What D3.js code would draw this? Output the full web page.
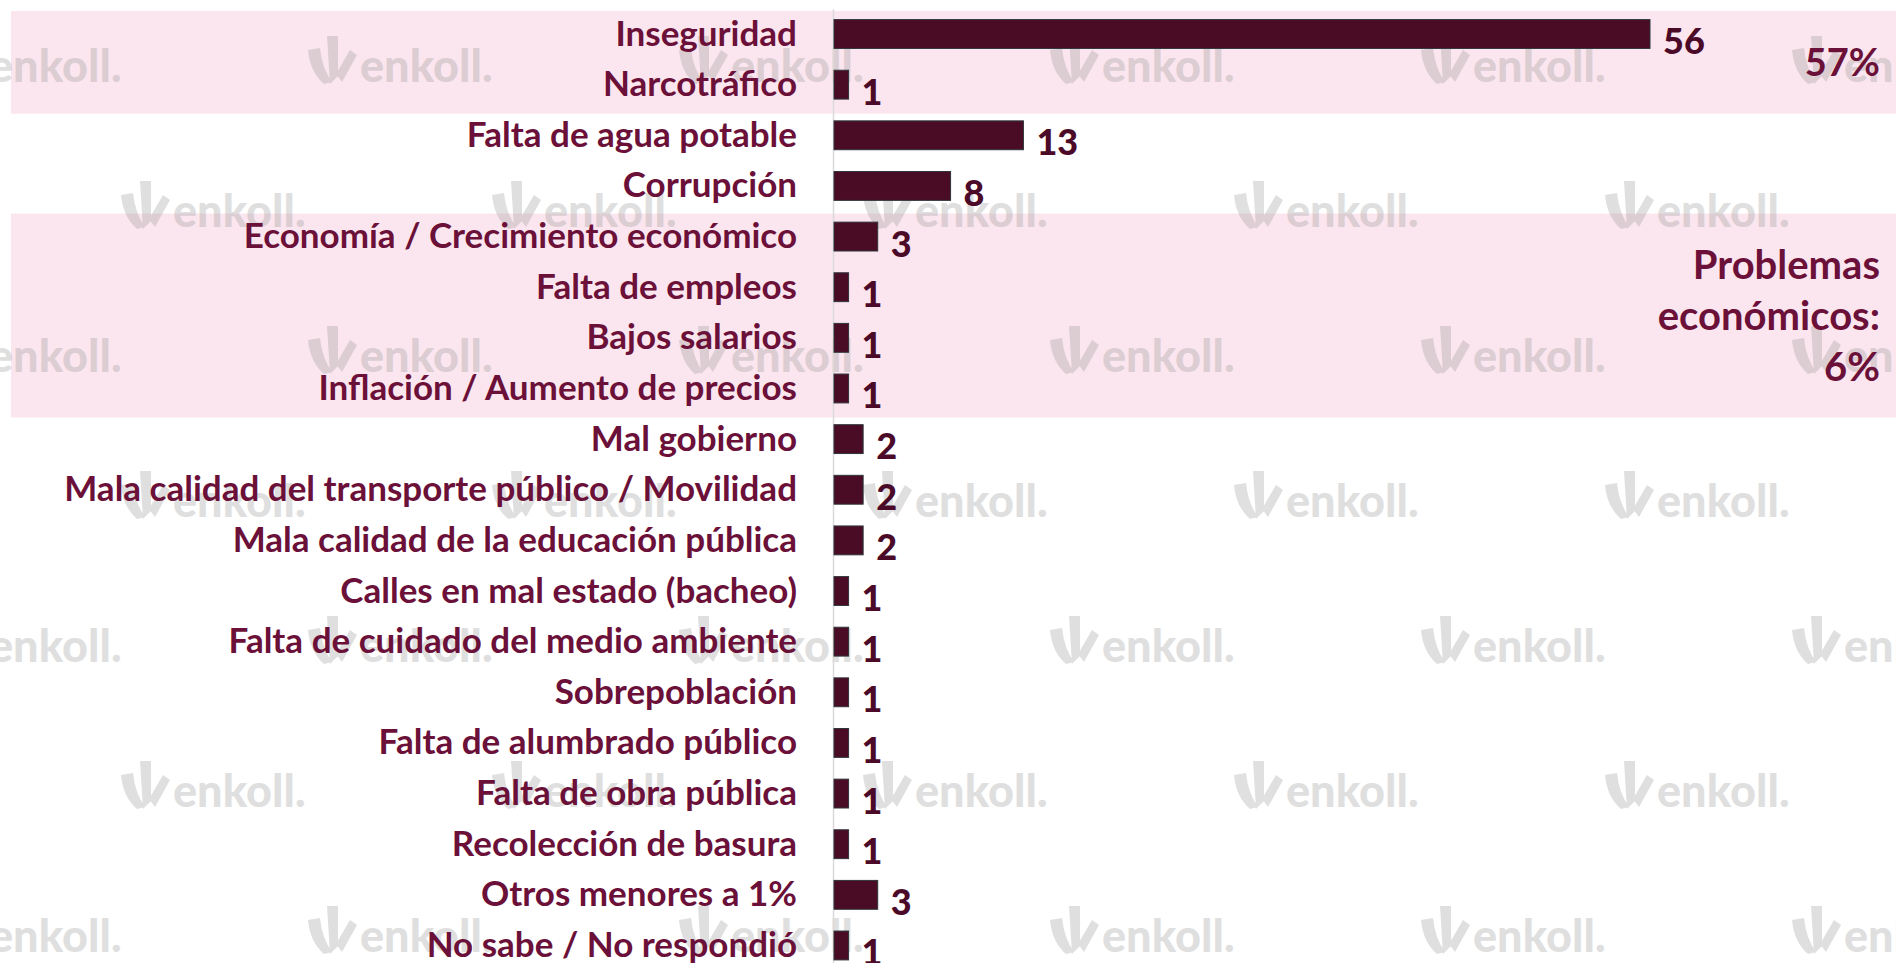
<!DOCTYPE html>
<html>
  <head>
    <meta charset="utf-8">
    <title>Problemas principales</title>
    <script type="text/javascript" src="https://cdn.jsdelivr.net/npm/d3@7"></script>
    <style>
      body { margin: 0; background: #fff; }
      svg { display: block; font-family: Lato, "Open Sans", sans-serif; font-weight: bold; }
    </style>
  </head>
  <body>
<script type="text/javascript">
var categories = [
  "Inseguridad", "Narcotráfico", "Falta de agua potable", "Corrupción",
  "Economía / Crecimiento económico", "Falta de empleos", "Bajos salarios",
  "Inflación / Aumento de precios", "Mal gobierno",
  "Mala calidad del transporte público / Movilidad",
  "Mala calidad de la educación pública", "Calles en mal estado (bacheo)",
  "Falta de cuidado del medio ambiente", "Sobrepoblación",
  "Falta de alumbrado público", "Falta de obra pública",
  "Recolección de basura", "Otros menores a 1%", "No sabe / No respondió"
];
var values = [56, 1, 13, 8, 3, 1, 1, 1, 2, 2, 2, 1, 1, 1, 1, 1, 1, 3, 1];

// grouped rows shaded in pink, with their totals on the right
var groupFirst = ["Inseguridad", "Economía / Crecimiento económico"];
var groupLast = ["Narcotráfico", "Inflación / Aumento de precios"];
var groupText = [["57%"], ["Problemas", "económicos:", "6%"]];

var w = 1896;
var h = 963;
var labelColor = "#6b1038";
var valueColor = "#4b0a28";
var barColor = "#4a0b24";

var svg = d3.select("body")
            .append("svg")
            .attr("width", w)
            .attr("height", h);

var y = d3.scaleBand()
          .domain(categories)
          .range([8.7, 970.8])
          .paddingInner(0.43)
          .paddingOuter(0.215);

var x = d3.scaleLinear()
          .domain([0, 56])
          .range([834, 1650]);

// pink bands
var step = y.step();
svg.selectAll("rect.band")
   .data(groupFirst)
   .enter()
   .append("rect")
   .attr("class", "band")
   .attr("x", 11)
   .attr("width", w - 11)
   .attr("y", function(d) { return y(d) + y.bandwidth() / 2 - 23; })
   .attr("height", function(d, i) {
     return y(groupLast[i]) - y(d) + 52;
   })
   .attr("fill", "#fbe6ef");

// watermark grid
var marks = [];
for (var r = 0; r < 7; r++) {
  var off = (r % 2 == 0) ? 308 - 371 : 121;
  for (var k = 0; k < 6; k++) {
    marks.push([off + k * 371, 60 + r * 145]);
  }
}
var wm = svg.selectAll("g.wm")
   .data(marks)
   .enter()
   .append("g")
   .attr("class", "wm")
   .attr("transform", function(d) { return "translate(" + d[0] + "," + (d[1] - 24) + ")"; })
   .attr("fill", "#8c8c8c")
   .attr("opacity", 0.27);
wm.append("path")
  .attr("d", "M0,14 L12,12 Q14,32 24,46 L16,48 Q2,36 0,14 Z M19,0 L30,0 L30,40 L22,48 Z M28,38 L42,14 L49,19 L34,46 Z");
wm.append("text")
  .attr("x", 52)
  .attr("y", 46)
  .attr("font-size", 45)
  .attr("font-weight", 900)
  .text("enkoll.");

// category axis
var yAxis = d3.axisLeft(y)
              .tickSize(0)
              .tickPadding(36);
var gAxis = svg.append("g")
   .attr("transform", "translate(" + (x(0) - 1) + ",0)")
   .call(yAxis);
gAxis.select(".domain")
   .attr("stroke", "#d9d9d9")
   .attr("stroke-width", 1.5);
gAxis.selectAll("text")
   .attr("fill", labelColor)
   .attr("font-family", "Lato, sans-serif")
   .attr("font-weight", "bold")
   .attr("font-size", 35)
   .attr("dy", "0.33em");

// bars
svg.selectAll("rect.bar")
   .data(values)
   .enter()
   .append("rect")
   .attr("class", "bar")
   .attr("x", x(0))
   .attr("y", function(d, i) { return y(categories[i]); })
   .attr("width", function(d) { return x(d) - x(0); })
   .attr("height", y.bandwidth())
   .attr("fill", barColor)
   .attr("stroke", "#2f353b")
   .attr("stroke-width", 1);

// value labels
svg.selectAll("text.value")
   .data(values)
   .enter()
   .append("text")
   .attr("class", "value")
   .attr("x", function(d) { return x(d) + 13; })
   .attr("y", function(d, i) { return y(categories[i]) + y.bandwidth() / 2 + 20; })
   .attr("fill", valueColor)
   .attr("font-size", 36)
   .attr("font-weight", 900)
   .text(function(d) { return d; });

// group totals
groupFirst.forEach(function(c, i) {
  var lines = groupText[i];
  var top = y(c) + y.bandwidth() / 2 - step / 2;
  var bottom = y(groupLast[i]) + y.bandwidth() / 2 + step / 2;
  var mid = (top + bottom) / 2;
  var lh = 51;
  var t = svg.append("text")
     .attr("text-anchor", "end")
     .attr("fill", labelColor)
     .attr("font-size", i == 0 ? 38 : 40);
  lines.forEach(function(s, j) {
    t.append("tspan")
     .attr("x", 1880)
     .attr("y", mid + (j - (lines.length - 1) / 2) * lh + 17)
     .text(s);
  });
});
</script>
  </body>
</html>
